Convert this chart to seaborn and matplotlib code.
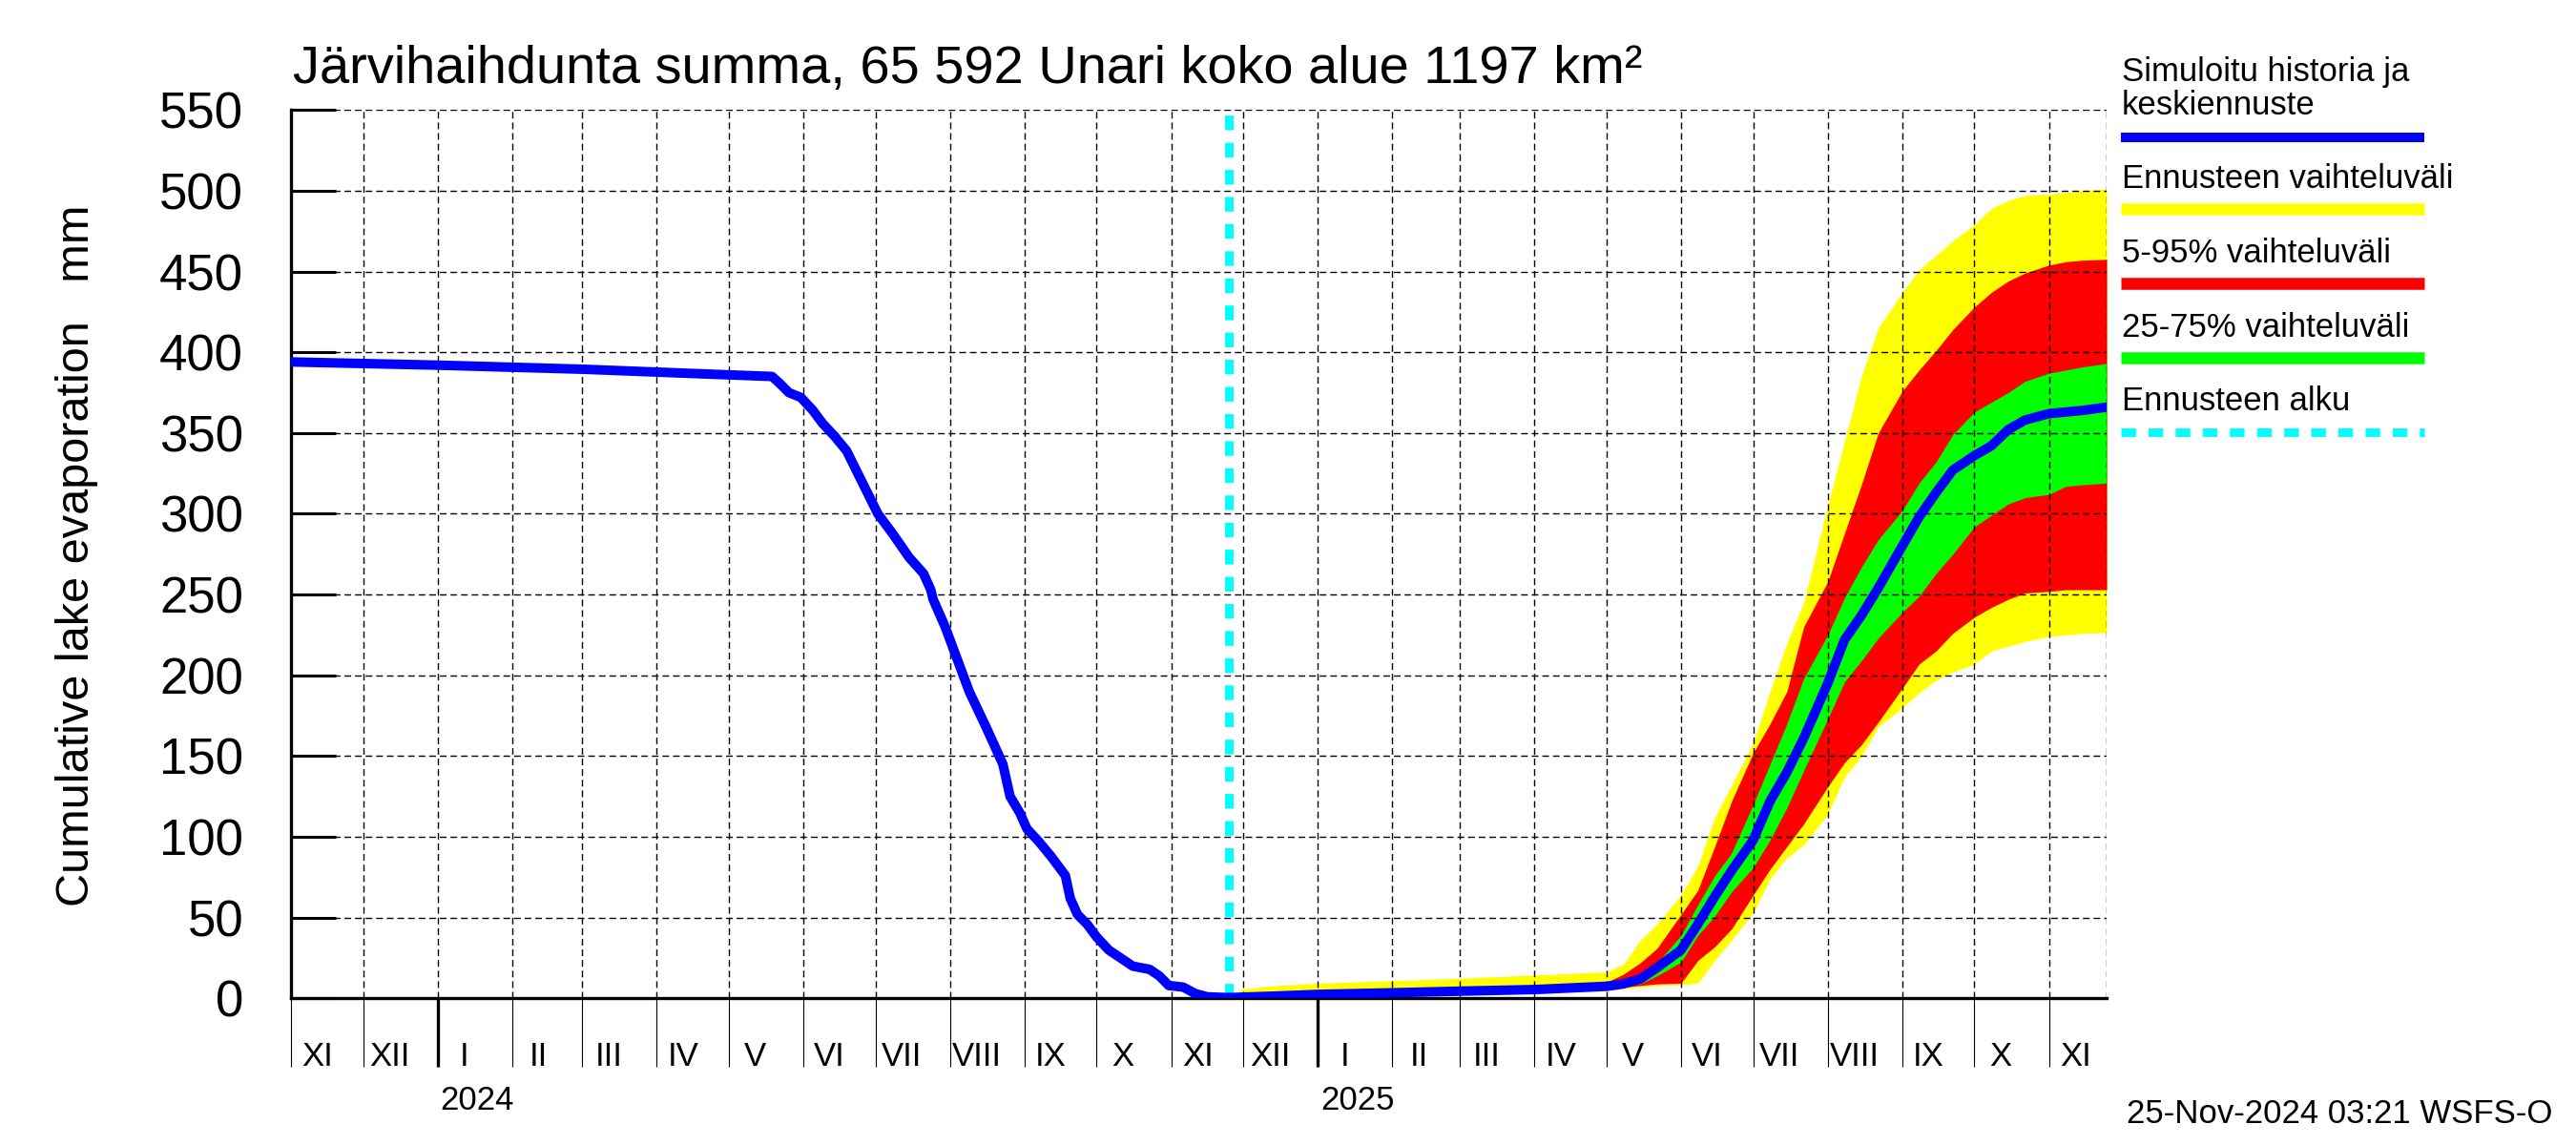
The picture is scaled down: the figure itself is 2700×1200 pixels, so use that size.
import matplotlib
matplotlib.use("Agg")
import matplotlib.pyplot as plt
import matplotlib.dates as mdates
from matplotlib.lines import Line2D
import seaborn as sns
import pandas as pd

sns.set_style("white")
plt.rcParams['font.family'] = ['Liberation Sans', 'DejaVu Sans']
plt.rcParams['text.color'] = 'black'
plt.rcParams['xtick.color'] = 'black'
plt.rcParams['ytick.color'] = 'black'

# simulated history (mm)
hist_dates = ['2023-11-01', '2024-01-01', '2024-03-01', '2024-05-01', '2024-05-19',
              '2024-05-22', '2024-05-26', '2024-05-31', '2024-06-05', '2024-06-09',
              '2024-06-14', '2024-06-19', '2024-06-23', '2024-06-29', '2024-07-02',
              '2024-07-08', '2024-07-15', '2024-07-21', '2024-07-24', '2024-07-25',
              '2024-07-30', '2024-08-04', '2024-08-09', '2024-08-16', '2024-08-23',
              '2024-08-26', '2024-08-30', '2024-09-02', '2024-09-07', '2024-09-12',
              '2024-09-18', '2024-09-20', '2024-09-23', '2024-09-27', '2024-10-01',
              '2024-10-06', '2024-10-11', '2024-10-16', '2024-10-23', '2024-10-27',
              '2024-10-31', '2024-11-06', '2024-11-11', '2024-11-16', '2024-11-25']
hist_values = [394, 392, 389.5, 386, 385,
               381, 375, 372, 364, 356,
               348, 339, 327, 309, 300,
               288, 273, 263, 253, 247,
               230, 210, 190, 168, 145,
               125, 115, 105, 97, 88,
               76, 62, 52, 46, 38,
               30, 25, 20, 18, 14,
               8, 7, 3, 1, 0.5]

# forecast
fc_dates = ['2024-11-25', '2024-12-01', '2024-12-15', '2025-01-01', '2025-02-01',
            '2025-03-01', '2025-04-01', '2025-05-01', '2025-05-08', '2025-05-15',
            '2025-05-22', '2025-06-01', '2025-06-08', '2025-06-15', '2025-06-22',
            '2025-07-01', '2025-07-08', '2025-07-15', '2025-07-22', '2025-08-01',
            '2025-08-08', '2025-08-15', '2025-08-22', '2025-09-01', '2025-09-08',
            '2025-09-15', '2025-09-22', '2025-10-01', '2025-10-08', '2025-10-15',
            '2025-10-22', '2025-11-01', '2025-11-08', '2025-11-15', '2025-11-25']
fc_median = [0.5, 0.8, 1.5, 2.5, 3.5, 4.5, 5.5, 7.5, 9, 12,
             19, 30, 46, 63, 79, 98, 122, 140, 161, 195,
             222, 237, 254, 280, 298, 313, 327, 336, 342, 352,
             358, 362, 363, 364, 366]
fc_min = [0, 0.2, 0.5, 1, 2, 3, 4, 5, 6, 7,
          8, 8.5, 9.5, 23.5, 36, 53, 74, 87, 95, 114,
          137, 150, 168, 180, 189, 197, 202, 207, 215, 218,
          221, 224, 225, 226, 226.5]
fc_max = [1, 6, 8, 9.5, 11, 12.5, 14.5, 16.5, 21, 36,
          46, 64, 82, 112, 132, 158, 190, 220, 245, 305,
          345, 385, 415, 437, 451, 460, 469, 479, 489, 494,
          497, 498, 499, 500, 501]
fc_p5 = [0.2, 0.3, 0.8, 1.5, 2.5, 3.5, 4.5, 6, 7, 8,
         9, 9.5, 23.5, 32, 43, 64, 80, 94, 108, 131,
         146, 157, 171, 192, 207, 215, 226, 236, 242, 247,
         251, 252, 253, 253, 253]
fc_p95 = [1, 2, 3, 4, 5, 6, 7.5, 10, 15, 22,
          31, 52, 67, 94, 122, 152, 170, 190, 230, 258,
          288, 318, 350, 376, 389, 401, 414, 428, 437, 444,
          449, 454, 456, 457, 457.5]
fc_p25 = [0.3, 0.5, 1, 2, 3, 4, 5, 6.5, 7.5, 9,
          14, 22.5, 39, 51, 66, 81, 98, 118, 141, 173,
          196, 209, 223, 239, 249, 263, 275, 292, 299, 306,
          310, 312, 317, 318, 319]
fc_p75 = [0.8, 1.2, 2, 3, 4, 5, 6.2, 8.5, 11, 14,
          22, 39, 58, 76, 90, 120, 145, 170, 198, 225,
          248, 267, 284, 302, 319, 332, 349, 363, 369, 375,
          382, 387, 389, 391, 393]

forecast_start = '2024-11-25'
x_start, x_end = '2023-11-01', '2025-11-25'
month_label_dates = ['2023-11-12', '2023-12-12', '2024-01-12', '2024-02-12', '2024-03-12',
                     '2024-04-12', '2024-05-12', '2024-06-12', '2024-07-12', '2024-08-12',
                     '2024-09-12', '2024-10-12', '2024-11-12', '2024-12-12', '2025-01-12',
                     '2025-02-12', '2025-03-12', '2025-04-12', '2025-05-12', '2025-06-12',
                     '2025-07-12', '2025-08-12', '2025-09-12', '2025-10-12', '2025-11-12']
month_labels = ['XI', 'XII', 'I', 'II', 'III', 'IV', 'V', 'VI', 'VII', 'VIII', 'IX', 'X', 'XI',
                'XII', 'I', 'II', 'III', 'IV', 'V', 'VI', 'VII', 'VIII', 'IX', 'X', 'XI']
years = ['2024', '2025']
y_ticks = list(range(0, 551, 50))

hd = pd.to_datetime(hist_dates)
fd = pd.to_datetime(fc_dates)

fig = plt.figure(figsize=(27, 12), dpi=100)
ax = fig.add_axes([0.113, 0.128, 0.7048, 0.776])

ax.fill_between(fd, fc_min, fc_max, color='#ffff00', lw=0, zorder=1)
ax.fill_between(fd, fc_p5, fc_p95, color='#ff0000', lw=0, zorder=1.1)
ax.fill_between(fd, fc_p25, fc_p75, color='#00ff00', lw=0, zorder=1.2)
ax.axvline(pd.Timestamp(forecast_start), color='#00ffff', lw=6.5,
           dashes=(1.7, 1.45), zorder=2.8)
sns.lineplot(x=hd, y=hist_values, ax=ax, color='#0000ff', lw=7.2, zorder=3)
sns.lineplot(x=fd, y=fc_median, ax=ax, color='#0000ff', lw=7.2, zorder=3)

ax.set_xlim(pd.Timestamp(x_start), pd.Timestamp(x_end))
ax.set_ylim(0, 550)
ax.set_yticks(y_ticks)
ax.set_yticklabels([str(v) for v in y_ticks])
ax.set_xlabel('')
ax.set_ylabel('')

ax.xaxis.set_major_locator(mdates.MonthLocator())
ax.xaxis.set_major_formatter(plt.NullFormatter())
ax.set_xticks(pd.to_datetime(month_label_dates), minor=True)
ax.set_xticklabels(month_labels, minor=True)

ax.tick_params(axis='y', left=True, direction='in', length=34, width=2.2, pad=36,
               labelsize=38, colors='black')
ax.tick_params(axis='x', which='major', bottom=True, direction='out', length=52,
               width=0.8, colors='black')
ax.tick_params(axis='x', which='minor', bottom=True, length=0, pad=32, labelsize=25,
               colors='black')

# thicker tick marks at the year boundaries
year_starts = pd.to_datetime([yr + '-01-01' for yr in years])
ax.vlines(year_starts, -0.077, 0, transform=ax.get_xaxis_transform(),
          colors='black', lw=2.4, clip_on=False)

ax.set_axisbelow(False)
ax.grid(True, which='major', axis='both', color='black', lw=1.0, ls=(0, (5, 3)))
ax.axvline(pd.Timestamp(x_end), color='black', lw=1.0, ls=(0, (5, 3)), zorder=2.5)
for s in ['top', 'right']:
    ax.spines[s].set_visible(False)
for s in ['left', 'bottom']:
    ax.spines[s].set_linewidth(2.4)
    ax.spines[s].set_color('black')

for yr in years:
    ax.text(pd.Timestamp(yr + '-01-02'), -0.115, yr, transform=ax.get_xaxis_transform(),
            ha='left', va='center', fontsize=25)

fig.text(0.1137, 0.9275, 'Järvihaihdunta summa, 65 592 Unari koko alue 1197 km²',
         fontsize=40.3, ha='left', va='baseline')
fig.text(0.03, 0.515, 'Cumulative lake evaporation   mm', rotation=90,
         fontsize=35, ha='center', va='center')
fig.text(0.9907, 0.027, '25-Nov-2024 03:21 WSFS-O', fontsize=25, ha='right', va='center')

# legend
lx0, lx1, tx = 0.8233, 0.9411, 0.8237
fig.text(tx, 0.9292, 'Simuloitu historia ja', fontsize=25, va='baseline')
fig.text(tx, 0.9000, 'keskiennuste', fontsize=25, va='baseline')
fig.add_artist(Line2D([lx0, lx1], [0.880, 0.880], transform=fig.transFigure,
                      color='#0000ff', lw=7.2, solid_capstyle='butt'))
fig.text(tx, 0.8358, 'Ennusteen vaihteluväli', fontsize=25, va='baseline')
fig.add_artist(Line2D([lx0, lx1], [0.8175, 0.8175], transform=fig.transFigure,
                      color='#ffff00', lw=9, solid_capstyle='butt'))
fig.text(tx, 0.7708, '5-95% vaihteluväli', fontsize=25, va='baseline')
fig.add_artist(Line2D([lx0, lx1], [0.7525, 0.7525], transform=fig.transFigure,
                      color='#ff0000', lw=9, solid_capstyle='butt'))
fig.text(tx, 0.7058, '25-75% vaihteluväli', fontsize=25, va='baseline')
fig.add_artist(Line2D([lx0, lx1], [0.6875, 0.6875], transform=fig.transFigure,
                      color='#00ff00', lw=9, solid_capstyle='butt'))
fig.text(tx, 0.6417, 'Ennusteen alku', fontsize=25, va='baseline')
fig.add_artist(Line2D([lx0, lx1], [0.6229, 0.6229], transform=fig.transFigure,
                      color='#00ffff', lw=6.5, dashes=(1.7, 1.45), dash_capstyle='butt'))

fig.savefig('out.png', dpi=100)
